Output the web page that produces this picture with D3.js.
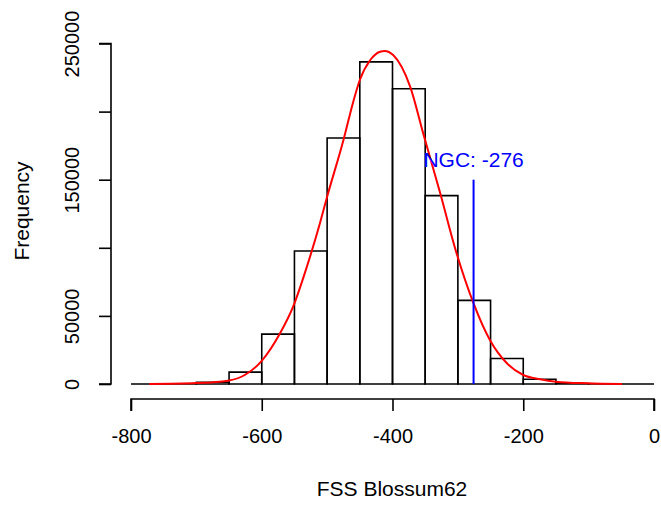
<!DOCTYPE html>
<html>
<head>
<meta charset="utf-8">
<script src="https://cdn.jsdelivr.net/npm/d3@7"></script>
<style>
  body { margin: 0; background: #fff; }
  text { font-family: "Liberation Sans", Arial, sans-serif; }
</style>
</head>
<body>
<div id="chart"></div>
<script>
// histogram bins (width 50) and counts
const binStarts = [-800, -750, -700, -650, -600, -550, -500, -450, -400, -350, -300, -250, -200, -150, -100, -50];
const counts = [0, 200, 1300, 8700, 36600, 97600, 180600, 236500, 216800, 138300, 61400, 18700, 3500, 400, 50, 0];
const binWidth = 50;

// red density curve
const curveX = [-772, -700, -664, -650, -626, -600, -572, -552, -531, -511, -500, -475, -460, -450, -434, -419, -412, -399, -373, -353, -327, -302, -276, -251, -225, -200, -174, -150, -103, -49];
const curveY = [0, 700, 1700, 2500, 6600, 17000, 37200, 56800, 86100, 118000, 137500, 179200, 207300, 223200, 237900, 244000, 244500, 241500, 218300, 184000, 140000, 96000, 59200, 32300, 15200, 6600, 3500, 1700, 500, 0];

// NGC marker
const ngcValue = -276;
const ngcHeight = 150000;
const ngcLabel = 'NGC: -276';

const xTicks = [-800, -600, -400, -200, 0];
const yTicks = [0, 50000, 100000, 150000, 200000, 250000];
const yLabels = ['0', '50000', '', '150000', '', '250000'];

const width = 661;
const height = 505;

const svg = d3.select('#chart')
    .append('svg')
    .attr('width', width)
    .attr('height', height);

const x = d3.scaleLinear().domain([-800, 0]).range([131, 654]);
const y = d3.scaleLinear().domain([0, 250000]).range([384, 43.5]);

// bars (drawn as paths so zero-height bins still show a line)
svg.selectAll('path.bar')
    .data(binStarts.map((s, i) => ({ x0: s, x1: s + binWidth, n: counts[i] })))
    .enter()
    .append('path')
    .attr('class', 'bar')
    .attr('d', d => `M${x(d.x0)},${y(0)}V${y(d.n)}H${x(d.x1)}V${y(0)}Z`)
    .attr('fill', 'none')
    .attr('stroke', '#000')
    .attr('stroke-width', 1.6);

// density curve
const line = d3.line()
    .x(d => x(d[0]))
    .y(d => y(d[1]))
    .curve(d3.curveMonotoneX);

svg.append('path')
    .datum(curveX.map((v, i) => [v, curveY[i]]))
    .attr('d', line)
    .attr('fill', 'none')
    .attr('stroke', '#ff0000')
    .attr('stroke-width', 2);

// NGC line and label
svg.append('line')
    .attr('x1', x(ngcValue)).attr('x2', x(ngcValue))
    .attr('y1', y(0)).attr('y2', y(ngcHeight))
    .attr('stroke', '#0000ff')
    .attr('stroke-width', 2);

svg.append('text')
    .attr('x', x(ngcValue))
    .attr('y', y(ngcHeight) - 12.5)
    .attr('text-anchor', 'middle')
    .attr('font-size', 21)
    .attr('fill', '#0000ff')
    .text(ngcLabel);

// x axis
const xAxis = svg.append('g')
    .attr('transform', 'translate(0,399)')
    .call(d3.axisBottom(x).tickValues(xTicks).tickSize(12).tickPadding(18).tickFormat(d => String(d)));
xAxis.selectAll('text').attr('font-size', 20).attr('fill', '#000').style('font-family', '"Liberation Sans", Arial, sans-serif');
xAxis.selectAll('line, path').attr('stroke', '#000').attr('stroke-width', 1.6);
xAxis.select('.domain').attr('d', `M${x(-800)},12V0H${x(0)}V12`);

// y axis (R skips labels that would overlap)
const yAxis = svg.append('g')
    .attr('transform', 'translate(111,0)')
    .call(d3.axisLeft(y).tickValues(yTicks).tickSize(12).tickFormat((d, i) => yLabels[i]));
yAxis.selectAll('line, path').attr('stroke', '#000').attr('stroke-width', 1.6);
yAxis.select('.domain').attr('d', `M-12,${y(250000)}H0V${y(0)}H-12`);
yAxis.selectAll('text')
    .attr('font-size', 20)
    .attr('fill', '#000')
    .style('font-family', '"Liberation Sans", Arial, sans-serif')
    .attr('x', null)
    .attr('y', null)
    .attr('dy', null)
    .attr('text-anchor', 'middle')
    .attr('transform', 'translate(-32,0) rotate(-90)');

// axis titles
svg.append('text')
    .attr('x', 392)
    .attr('y', 496)
    .attr('text-anchor', 'middle')
    .attr('font-size', 21)
    .text('FSS Blossum62');

svg.append('text')
    .attr('transform', 'translate(29,211) rotate(-90)')
    .attr('text-anchor', 'middle')
    .attr('font-size', 21)
    .text('Frequency');
</script>
</body>
</html>
